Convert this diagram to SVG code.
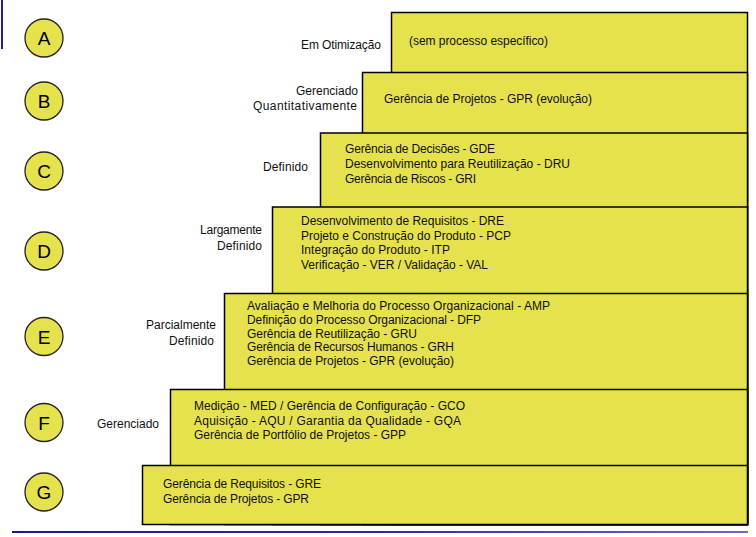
<svg xmlns="http://www.w3.org/2000/svg" width="756" height="537" viewBox="0 0 756 537">
<defs>
<style>
.step{fill:#E5E24E;stroke:#000;stroke-width:1.5}
.circ{fill:#E5E24E;stroke:#222;stroke-width:1.3}
.t{font-family:"Liberation Sans",Arial,sans-serif;font-size:12px;fill:#111}
.r{text-anchor:end}
.L{font-family:"Liberation Sans",Arial,sans-serif;font-size:19px;fill:#000;text-anchor:middle}
</style>
<linearGradient id="bl" x1="0" y1="0" x2="1" y2="0">
<stop offset="0" stop-color="#1a1a90"/>
<stop offset="0.5" stop-color="#2a2aa8"/>
<stop offset="1" stop-color="#6a6ac8"/>
</linearGradient>
</defs>
<rect width="756" height="537" fill="#fff"/>
<line x1="2" y1="0" x2="2" y2="49" stroke="#1c1ca0" stroke-width="2"/>
<rect x="12" y="531" width="736" height="2" fill="url(#bl)"/>

<g id="levelA">
<rect class="step" x="391.5" y="12.5" width="356" height="512"/>
<circle class="circ" cx="44" cy="38" r="19"/>
<text class="L" x="44" y="45">A</text>
<text class="t r" x="381" y="49" textLength="80">Em Otimização</text>
<text class="t" x="409" y="45" textLength="139">(sem processo específico)</text>
</g>
<g id="levelB">
<rect class="step" x="362.5" y="72.5" width="385" height="452"/>
<circle class="circ" cx="44" cy="101" r="19"/>
<text class="L" x="44" y="108">B</text>
<text class="t r" x="358" y="95" textLength="62">Gerenciado</text>
<text class="t r" x="357" y="110" textLength="104">Quantitativamente</text>
<text class="t" x="384" y="103" textLength="208">Gerência de Projetos - GPR (evolução)</text>
</g>
<g id="levelC">
<rect class="step" x="320.5" y="133" width="427" height="391.5"/>
<circle class="circ" cx="44" cy="171" r="19"/>
<text class="L" x="44" y="178">C</text>
<text class="t r" x="308" y="171" textLength="45">Definido</text>
<text class="t" x="345" y="153" textLength="150">Gerência de Decisões - GDE</text>
<text class="t" x="345" y="167.5" textLength="225">Desenvolvimento para Reutilização - DRU</text>
<text class="t" x="345" y="182.5" textLength="131">Gerência de Riscos - GRI</text>
</g>
<g id="levelD">
<rect class="step" x="272.5" y="207" width="475" height="317.5"/>
<circle class="circ" cx="44" cy="251" r="19"/>
<text class="L" x="44" y="258">D</text>
<text class="t r" x="262" y="234" textLength="62">Largamente</text>
<text class="t r" x="262" y="250" textLength="45">Definido</text>
<text class="t" x="301" y="225" textLength="203">Desenvolvimento de Requisitos - DRE</text>
<text class="t" x="301" y="240" textLength="210">Projeto e Construção do Produto - PCP</text>
<text class="t" x="301" y="254" textLength="149">Integração do Produto - ITP</text>
<text class="t" x="301" y="269" textLength="187">Verificação - VER / Validação - VAL</text>
</g>
<g id="levelE">
<rect class="step" x="224.5" y="293.5" width="523" height="231"/>
<circle class="circ" cx="44" cy="336.5" r="19"/>
<text class="L" x="44" y="343.5">E</text>
<text class="t r" x="216" y="329" textLength="70">Parcialmente</text>
<text class="t r" x="214" y="345" textLength="45">Definido</text>
<text class="t" x="247" y="310" textLength="303">Avaliação e Melhoria do Processo Organizacional - AMP</text>
<text class="t" x="247" y="324" textLength="234">Definição do Processo Organizacional - DFP</text>
<text class="t" x="247" y="338" textLength="170">Gerência de Reutilização - GRU</text>
<text class="t" x="247" y="351" textLength="207">Gerência de Recursos Humanos - GRH</text>
<text class="t" x="247" y="365" textLength="207">Gerência de Projetos - GPR (evolução)</text>
</g>
<g id="levelF">
<rect class="step" x="170.5" y="389.5" width="577" height="135"/>
<circle class="circ" cx="44" cy="422.5" r="19"/>
<text class="L" x="44" y="429.5">F</text>
<text class="t r" x="159" y="428" textLength="62">Gerenciado</text>
<text class="t" x="194" y="410" textLength="271">Medição - MED / Gerência de Configuração - GCO</text>
<text class="t" x="194" y="425" textLength="267">Aquisição - AQU / Garantia da Qualidade - GQA</text>
<text class="t" x="194" y="439" textLength="212">Gerência de Portfólio de Projetos - GPP</text>
</g>
<g id="levelG">
<rect class="step" x="142.5" y="465.5" width="605" height="59"/>
<circle class="circ" cx="44" cy="492" r="19"/>
<text class="L" x="44" y="499">G</text>
<text class="t" x="163" y="488" textLength="158">Gerência de Requisitos - GRE</text>
<text class="t" x="163" y="503" textLength="146">Gerência de Projetos - GPR</text>
</g>
</svg>
